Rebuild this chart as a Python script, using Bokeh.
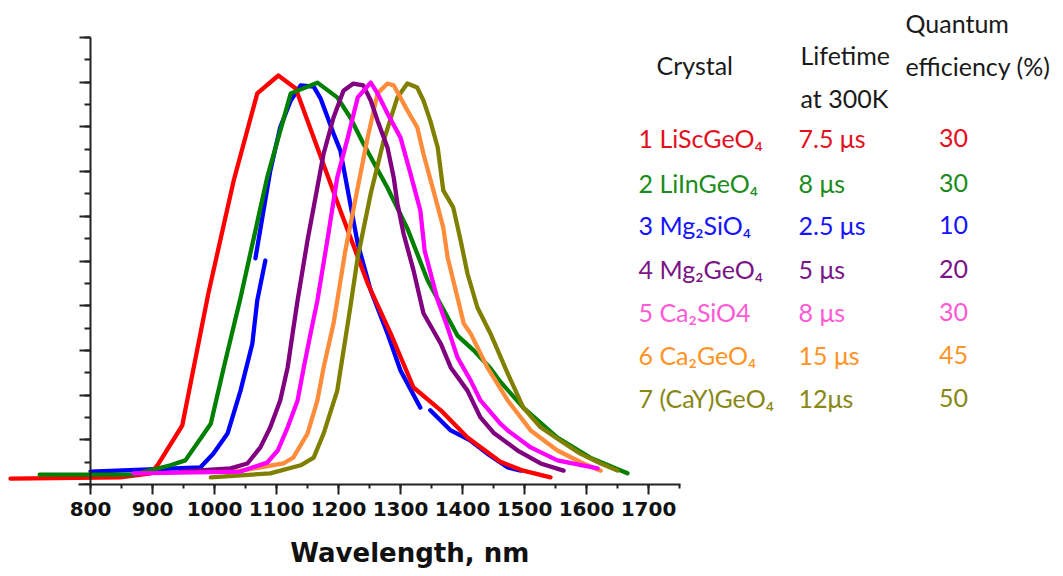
import math

from bokeh.core.properties import value
from bokeh.embed import file_html
from bokeh.models import (ColumnDataSource, CustomJSTickFormatter, FixedTicker, LinearAxis, Range1d,
                          SingleIntervalTicker)
from bokeh.plotting import figure
from bokeh.resources import INLINE

nan = math.nan

# Normalized emission spectra: wavelength (nm) and intensity
red_nm = [671, 848, 897, 910, 948, 990, 1031, 1069, 1103, 1131, 1203, 1247, 1284, 1321, 1365, 1408, 1461, 1498, 1542]
red_i = [0.013, 0.016, 0.025, 0.047, 0.132, 0.427, 0.680, 0.875, 0.915, 0.886, 0.613, 0.450, 0.338, 0.217, 0.166, 0.105, 0.051, 0.031, 0.016]

green_nm = [718, 869, 929, 953, 994, 1015, 1042, 1085, 1123, 1166, 1198, 1219, 1240, 1279, 1311, 1344, 1376, 1392, 1418, 1445, 1461, 1498, 1553, 1606, 1666]
green_i = [0.022, 0.022, 0.043, 0.054, 0.136, 0.262, 0.418, 0.687, 0.875, 0.899, 0.866, 0.821, 0.763, 0.664, 0.573, 0.456, 0.374, 0.333, 0.300, 0.260, 0.230, 0.172, 0.105, 0.060, 0.025]

blue_nm = [800, 977, 998, 1021, 1042, 1061, 1069, 1082, nan,
           1066, 1090, 1106, 1123, 1139, 1160, 1171, 1192, 1203, 1215, 1231, 1252, 1279, 1300, 1332, nan,
           1348, 1381, 1413, 1440, 1473, 1494]
blue_i = [0.029, 0.038, 0.069, 0.114, 0.210, 0.315, 0.412, 0.501, nan,
          0.506, 0.702, 0.799, 0.859, 0.893, 0.890, 0.864, 0.785, 0.747, 0.658, 0.539, 0.434, 0.338, 0.255, 0.172, nan,
          0.166, 0.121, 0.098, 0.069, 0.038, 0.031]

purple_nm = [945, 1026, 1053, 1074, 1090, 1106, 1118, 1126, 1134, 1150, 1176, 1192, 1208, 1224, 1240, 1252, 1263, 1279, 1289, 1295, 1305, 1321, 1337, 1365, 1381, 1408, 1429, 1450, 1489, 1526, 1563]
purple_i = [0.029, 0.036, 0.047, 0.083, 0.128, 0.188, 0.262, 0.338, 0.412, 0.546, 0.740, 0.821, 0.881, 0.897, 0.893, 0.859, 0.814, 0.754, 0.687, 0.629, 0.561, 0.479, 0.383, 0.315, 0.262, 0.210, 0.150, 0.116, 0.076, 0.047, 0.031]

magenta_nm = [869, 1042, 1085, 1102, 1118, 1134, 1144, 1155, 1166, 1182, 1198, 1215, 1231, 1252, 1263, 1279, 1300, 1316, 1332, 1339, 1360, 1376, 1392, 1413, 1429, 1461, 1473, 1510, 1553, 1618]
magenta_i = [0.025, 0.029, 0.049, 0.076, 0.128, 0.188, 0.262, 0.338, 0.412, 0.546, 0.687, 0.776, 0.866, 0.899, 0.875, 0.830, 0.776, 0.696, 0.613, 0.523, 0.412, 0.351, 0.284, 0.233, 0.188, 0.136, 0.121, 0.083, 0.054, 0.036]

orange_nm = [1026, 1111, 1127, 1150, 1166, 1176, 1192, 1211, 1231, 1247, 1263, 1279, 1289, 1311, 1327, 1337, 1353, 1369, 1376, 1392, 1402, 1413, 1429, 1440, 1473, 1510, 1553, 1595, 1623]
orange_i = [0.027, 0.047, 0.060, 0.114, 0.188, 0.262, 0.360, 0.523, 0.664, 0.776, 0.875, 0.897, 0.893, 0.837, 0.799, 0.740, 0.658, 0.575, 0.508, 0.418, 0.360, 0.338, 0.293, 0.262, 0.188, 0.121, 0.076, 0.047, 0.031]

olive_nm = [994, 1090, 1139, 1160, 1176, 1198, 1219, 1231, 1252, 1273, 1295, 1311, 1327, 1337, 1348, 1360, 1369, 1385, 1397, 1408, 1424, 1445, 1473, 1498, 1526, 1558, 1590, 1623, 1650]
olive_i = [0.016, 0.025, 0.043, 0.060, 0.114, 0.210, 0.396, 0.508, 0.651, 0.770, 0.866, 0.897, 0.888, 0.859, 0.814, 0.754, 0.658, 0.620, 0.546, 0.472, 0.396, 0.338, 0.248, 0.172, 0.128, 0.098, 0.069, 0.047, 0.031]

# Table of crystal properties
crystals = ["1 LiScGeO\u2084", "2 LiInGeO\u2084", "3 Mg\u2082SiO\u2084", "4 Mg\u2082GeO\u2084",
            "5 Ca\u2082SiO4", "6 Ca\u2082GeO\u2084", "7 (CaY)GeO\u2084"]
lifetimes = ["7.5 \u03bcs", "8 \u03bcs", " 2.5 \u03bcs", "  5 \u03bcs", "8 \u03bcs", "15 \u03bcs", "12\u03bcs"]
efficiencies = ["30", "30", "10", "20", "30", "45", "50"]
text_colors = ["#e3101e", "#1b8c1b", "#1414ff", "#7a1487", "#ff5ad6", "#ff9326", "#878712"]

x_ticks_major = 100
y_ticks_major = 0.1
x_title = "Wavelength, nm"

W, H = 1063, 576
BOTTOM = 92
PX_PER_NM = 0.62
X_START = 800 - 90 / PX_PER_NM
FRAME_H = H - BOTTOM
PX_PER_UNIT = 447.0

p = figure(width=W, height=H, output_backend="svg", toolbar_location=None,
           x_axis_location=None, y_axis_location=None,
           x_range=Range1d(X_START, X_START + W / PX_PER_NM),
           y_range=Range1d(0, FRAME_H / PX_PER_UNIT),
           min_border_left=0, min_border_right=0, min_border_top=0, min_border_bottom=BOTTOM)
p.outline_line_color = None
p.background_fill_color = "white"
p.border_fill_color = "white"
p.grid.visible = False


def tx(px):
    return X_START + px / PX_PER_NM


def ty(py):
    return (FRAME_H - py) / PX_PER_UNIT


series = [
    (blue_nm, blue_i, "#0000ff"),
    (red_nm, red_i, "#ff0000"),
    (green_nm, green_i, "#008000"),
    (olive_nm, olive_i, "#808000"),
    (orange_nm, orange_i, "#ff8c3a"),
    (purple_nm, purple_i, "#800080"),
    (magenta_nm, magenta_i, "#ff00ff"),
]
for xs, ys, c in series:
    p.line(xs, ys, line_color=c, line_width=4.3, line_join="round", line_cap="round")

# Wavelength axis
xax = LinearAxis(bounds=(781, 1752), ticker=SingleIntervalTicker(interval=x_ticks_major, num_minor_ticks=2))
xax.axis_line_width = 2
xax.axis_line_color = "#222222"
xax.major_tick_line_color = "#222222"
xax.minor_tick_line_color = "#222222"
xax.major_tick_line_width = 2
xax.minor_tick_line_width = 2
xax.major_tick_in = 0
xax.major_tick_out = 10
xax.minor_tick_in = 0
xax.minor_tick_out = 4
xax.major_label_standoff = 7
xax.major_label_text_font = "DejaVu Sans"
xax.major_label_text_font_style = "bold"
xax.major_label_text_font_size = "20px"
xax.major_label_text_color = "#111111"
p.add_layout(xax, "below")

# Second, bare axis that only carries the axis title; the label is centred on the
# whole frame, so trailing no-break spaces move the visible words under the curves
tax = LinearAxis(ticker=FixedTicker(ticks=[]), axis_label=x_title + "\u00a0" * 27)
tax.axis_line_color = None
tax.major_tick_line_color = None
tax.minor_tick_line_color = None
tax.major_tick_in = 0
tax.major_tick_out = 0
tax.minor_tick_in = 0
tax.minor_tick_out = 0
tax.major_label_standoff = 0
tax.axis_label_standoff = 19
tax.axis_label_text_font = "DejaVu Sans"
tax.axis_label_text_font_style = "bold"
tax.axis_label_text_font_size = "26px"
tax.axis_label_text_color = "#111111"
p.add_layout(tax, "below")

# Intensity axis drawn at 800 nm, without labels
yax = LinearAxis(fixed_location=800, bounds=(0, 1.0),
                 ticker=SingleIntervalTicker(interval=y_ticks_major, num_minor_ticks=2),
                 formatter=CustomJSTickFormatter(code="return ''"))
yax.axis_line_width = 2
yax.axis_line_color = "#222222"
yax.major_tick_line_color = "#222222"
yax.minor_tick_line_color = "#222222"
yax.major_tick_line_width = 2
yax.minor_tick_line_width = 2
yax.major_tick_in = 0
yax.major_tick_out = 11
yax.minor_tick_in = 0
yax.minor_tick_out = 6
p.add_layout(yax, "left")

# Property table
FONT = value("Lato")
SIZE = "25px"
row_y = [137, 182, 224, 268, 311, 354, 397]

p.text(x=[tx(656), tx(800), tx(800), tx(905), tx(905)],
       y=[ty(64), ty(54), ty(97), ty(22), ty(65)],
       text=["Crystal", "Lifetime", "at 300K", "Quantum", "efficiency (%)"],
       text_color="#1a1a1a", text_font=FONT, text_font_size=SIZE,
       text_baseline="middle", text_align="left")

table = ColumnDataSource(dict(
    y=[ty(v) for v in row_y],
    crystal=crystals, life=lifetimes, eff=efficiencies, color=text_colors,
))
p.text(x=tx(638), y="y", text="crystal", source=table, text_color="color",
       text_font=FONT, text_font_size=SIZE, text_baseline="middle", text_align="left")
p.text(x=tx(798), y="y", text="life", source=table, text_color="color",
       text_font=FONT, text_font_size=SIZE, text_baseline="middle", text_align="left")
p.text(x=tx(953), y="y", text="eff", source=table, text_color="color",
       text_font=FONT, text_font_size=SIZE, text_baseline="middle", text_align="center")

open("out.html", "w").write(file_html(p, INLINE))
